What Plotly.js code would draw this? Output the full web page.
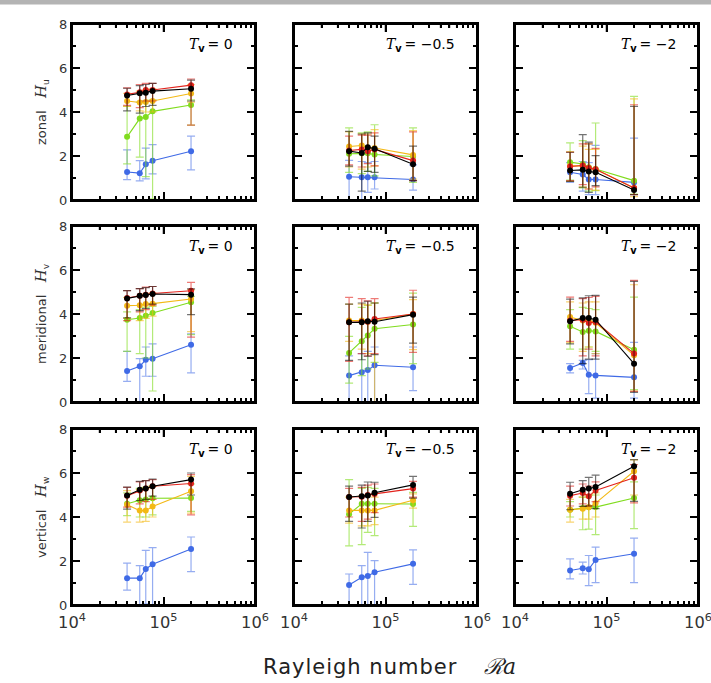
<!DOCTYPE html>
<html><head><meta charset="utf-8">
<script src="https://cdn.plot.ly/plotly-3.0.1.min.js"></script>
<style>html,body{margin:0;padding:0;background:#fff}</style>
</head><body><div id="chart" style="width:711px;height:683px"></div>
<script>
// ---------------- data ----------------
const Ra = [40000, 55000, 64000, 76000, 200000];
const seriesNames = ['blue', 'green', 'orange', 'red', 'black'];
const rowLabels = ['zonal', 'meridional', 'vertical'];
const rowSymbols = ['u', 'v', 'w'];
const tvLabels = ['0', '\u22120.5', '\u22122'];

// each array: [blue, green, orange, red, black]
const zonal_T0_val = [[1.27,1.22,1.62,1.78,2.22],[2.87,3.70,3.77,4.03,4.32],[4.50,4.43,4.45,4.50,4.84],[4.80,4.90,5.00,5.00,5.22],[4.75,4.85,4.88,4.95,5.06]];
const zonal_T0_hi  = [[2.28,1.79,2.36,2.52,2.90],[4.26,4.45,4.50,4.55,4.55],[4.85,4.95,5.00,5.05,5.25],[5.10,5.25,5.30,5.30,5.50],[5.08,5.20,5.25,5.30,5.45]];
const zonal_T0_lo  = [[0.93,0.87,0.96,1.19,1.37],[1.64,1.95,1.06,0.05,3.40],[4.25,4.05,4.00,4.00,4.45],[4.30,4.20,4.50,4.50,3.40],[4.05,3.95,4.25,4.30,4.50]];

const zonal_T05_val = [[1.06,1.03,1.03,1.03,0.93],[2.10,2.13,2.12,2.07,1.98],[2.43,2.48,2.38,2.36,2.05],[2.25,2.30,2.22,2.30,1.79],[2.22,2.14,2.40,2.33,1.63]];
const zonal_T05_hi  = [[1.80,1.75,1.70,1.75,1.60],[3.28,3.05,3.10,3.42,3.28],[3.10,3.00,3.00,3.20,3.15],[2.90,2.95,2.95,3.05,3.10],[3.12,3.00,3.05,2.90,2.45]];
const zonal_T05_lo  = [[0.00,0.00,0.35,0.50,0.45],[1.26,1.20,1.30,1.10,0.80],[1.50,1.40,1.50,1.55,0.95],[1.60,1.50,1.65,1.55,0.88],[1.54,0.40,1.30,1.26,0.88]];

const zonal_T2_val = [[1.26,1.16,0.93,0.93,0.80],[1.72,1.64,1.49,1.41,0.88],[1.55,1.55,1.45,1.40,0.55],[1.52,1.57,1.45,1.40,0.55],[1.34,1.37,1.29,1.26,0.45]];
const zonal_T2_hi  = [[1.70,1.75,1.70,2.48,2.81],[2.60,2.70,2.55,3.50,4.71],[2.20,2.45,2.30,2.30,4.60],[2.17,2.55,2.55,2.35,4.33],[2.17,2.97,2.63,2.02,4.26]];
const zonal_T2_lo  = [[0.80,0.40,0.24,0.24,0.00],[0.90,0.55,0.40,0.43,0.27],[0.85,0.60,0.50,0.45,0.15],[0.88,0.70,0.50,0.60,0.24],[0.85,0.58,0.35,0.65,0.24]];

const merid_T0_val = [[1.41,1.62,1.92,1.97,2.60],[3.74,3.82,3.92,4.05,4.53],[4.38,4.40,4.45,4.47,4.68],[4.73,4.83,4.88,4.93,5.06],[4.71,4.83,4.86,4.91,4.88]];
const merid_T0_hi  = [[2.30,1.97,2.50,2.64,3.10],[4.10,4.20,4.30,4.35,4.80],[4.75,4.80,4.90,4.95,5.10],[5.06,5.15,5.22,5.25,5.44],[5.06,5.15,5.20,5.25,5.14]];
const merid_T0_lo  = [[0.94,0.00,1.17,1.17,1.32],[2.30,2.20,2.00,0.50,3.06],[3.80,3.70,3.80,3.90,3.20],[3.70,4.10,4.20,4.40,2.95],[3.82,4.15,4.25,4.45,3.97]];

const merid_T05_val = [[1.20,1.35,1.45,1.67,1.58],[2.23,2.76,3.02,3.33,3.52],[3.70,3.70,3.65,3.70,4.00],[3.62,3.65,3.65,3.77,4.00],[3.62,3.62,3.67,3.65,3.97]];
const merid_T05_hi  = [[2.10,2.20,2.30,2.50,2.50],[2.98,4.30,4.40,4.50,4.95],[4.45,4.45,4.40,4.50,4.65],[4.76,4.70,4.60,4.70,5.08],[4.45,4.50,4.58,4.50,4.77]];
const merid_T05_lo  = [[0.00,0.00,0.00,0.00,0.52],[0.86,1.20,1.50,1.80,1.74],[2.76,2.40,2.20,0.00,2.38],[1.85,2.20,2.10,2.20,2.26],[1.89,1.92,2.08,2.15,2.68]];

const merid_T2_val = [[1.55,1.77,1.24,1.21,1.12],[3.44,3.18,3.24,3.21,2.38],[3.86,3.70,3.70,3.60,2.12],[3.71,3.74,3.59,3.64,2.20],[3.67,3.82,3.82,3.74,1.74]];
const merid_T2_hi  = [[1.74,1.89,1.92,2.20,2.71],[4.20,4.30,4.25,4.20,4.77],[4.55,4.50,4.55,4.55,5.33],[4.77,4.70,4.75,4.80,5.53],[4.68,4.73,4.83,4.85,5.48]];
const merid_T2_lo  = [[1.32,1.50,0.38,0.18,0.18],[2.40,2.40,2.50,2.30,0.56],[2.70,2.30,2.50,2.20,0.50],[2.76,2.10,2.40,2.10,0.48],[2.64,1.74,1.95,1.95,0.44]];

const vert_T0_val = [[1.22,1.22,1.64,1.85,2.55],[4.60,4.76,4.80,4.85,4.86],[4.56,4.29,4.29,4.48,5.17],[4.97,5.21,5.29,5.40,5.52],[4.98,5.24,5.29,5.40,5.70]];
const vert_T0_hi  = [[1.90,1.79,2.48,2.61,3.09],[5.10,5.30,5.35,5.40,5.50],[5.20,5.25,5.30,5.40,5.85],[5.35,5.60,5.65,5.70,5.93],[5.36,5.62,5.65,5.72,6.00]];
const vert_T0_lo  = [[0.68,0.00,0.05,0.00,1.52],[4.06,4.00,4.00,4.10,4.26],[3.77,3.77,3.80,4.00,4.18],[4.45,4.60,4.70,4.80,4.10],[4.36,4.75,4.80,4.95,5.00]];

const vert_T05_val = [[0.91,1.26,1.32,1.49,1.87],[4.13,4.60,4.60,4.60,4.59],[4.30,4.30,4.30,4.30,4.76],[4.91,4.92,5.00,5.05,5.29],[4.91,4.94,4.98,5.10,5.46]];
const vert_T05_hi  = [[1.41,1.79,2.39,2.02,2.51],[5.70,5.30,5.35,5.30,5.12],[4.90,4.95,5.00,4.90,5.05],[5.30,5.35,5.45,5.50,5.62],[5.40,5.45,5.59,5.58,5.85]];
const vert_T05_lo  = [[0.00,0.00,0.00,0.00,0.94],[2.69,2.74,3.30,3.15,3.57],[3.72,3.60,3.60,3.65,4.40],[4.00,3.80,3.90,4.20,4.90],[3.80,3.50,3.80,3.98,4.86]];

const vert_T2_val = [[1.57,1.67,1.63,2.05,2.33],[4.33,4.41,4.44,4.45,4.86],[4.33,4.38,4.44,4.63,6.08],[4.97,5.09,4.94,5.21,5.78],[5.06,5.24,5.29,5.36,6.31]];
const vert_T2_hi  = [[2.10,1.95,2.25,2.63,3.04],[4.70,4.90,5.00,5.00,5.60],[4.80,4.90,5.00,5.10,6.60],[5.40,5.50,5.40,5.60,6.38],[5.58,5.65,5.80,5.90,6.61]];
const vert_T2_lo  = [[1.19,1.41,0.88,1.02,1.02],[4.00,3.42,3.45,3.20,3.47],[3.77,3.90,3.90,4.00,5.00],[4.50,4.60,4.50,4.70,4.64],[4.33,4.48,4.50,4.38,4.71]];

// frame tick positions (axis values) used for the mirrored top/right ticks
const xMajorInner = [1e5];
const xMinorInner = [2e4,3e4,4e4,5e4,6e4,7e4,8e4,9e4,2e5,3e5,4e5,5e5,6e5,7e5,8e5,9e5];
const yMajorInner = [2, 4, 6];
const yMinorInner = [1, 3, 5, 7];

// ---------------- styling ----------------
const lineColors = ['#3f6ae6', '#80dc1e', '#f3b916', '#e3231c', '#000000'];
const errColors  = ['rgba(63,106,230,0.55)', 'rgba(128,220,30,0.6)', 'rgba(243,185,22,0.6)', 'rgba(227,35,28,0.6)', 'rgba(0,0,0,0.55)'];

const panelData = [
  [[zonal_T0_val, zonal_T0_hi, zonal_T0_lo], [zonal_T05_val, zonal_T05_hi, zonal_T05_lo], [zonal_T2_val, zonal_T2_hi, zonal_T2_lo]],
  [[merid_T0_val, merid_T0_hi, merid_T0_lo], [merid_T05_val, merid_T05_hi, merid_T05_lo], [merid_T2_val, merid_T2_hi, merid_T2_lo]],
  [[vert_T0_val, vert_T0_hi, vert_T0_lo], [vert_T05_val, vert_T05_hi, vert_T05_lo], [vert_T2_val, vert_T2_hi, vert_T2_lo]]
];

const W = 711, H = 683;
const colPx = [[72, 255], [294, 477], [515, 698]];
const rowPx = [[24, 200], [226, 402], [429, 605]];
const PW = 183, PH = 176;

const tickFont = {family: 'DejaVu Sans, sans-serif', size: 13, color: '#333'};
const traces = [];
const shapes = [{type: 'rect', xref: 'paper', yref: 'paper', x0: 0, x1: 1, y0: 1 - 4.5 / H, y1: 1, fillcolor: '#b4b4b4', line: {width: 0}, layer: 'above'}];
const layout = {
  width: W, height: H,
  margin: {l: 0, r: 0, t: 0, b: 0},
  paper_bgcolor: '#fff', plot_bgcolor: '#fff',
  showlegend: false,
  annotations: [],
  shapes: shapes
};

for (let r = 0; r < 3; r++) {
  for (let c = 0; c < 3; c++) {
    const idx = r * 3 + c + 1;
    const xa = idx === 1 ? 'x' : 'x' + idx;
    const ya = idx === 1 ? 'y' : 'y' + idx;
    const [vals, his, los] = panelData[r][c];
    for (let s = 0; s < 5; s++) {
      traces.push({
        type: 'scatter', mode: 'lines+markers',
        x: Ra, y: vals[s], xaxis: xa, yaxis: ya,
        name: seriesNames[s],
        line: {color: lineColors[s], width: 1.1},
        marker: {color: lineColors[s], size: 6},
        error_y: {
          type: 'data', symmetric: false,
          array: vals[s].map((v, i) => his[s][i] - v),
          arrayminus: vals[s].map((v, i) => v - los[s][i]),
          color: errColors[s], thickness: 1.2, width: 4
        }
      });
    }
    const xKey = idx === 1 ? 'xaxis' : 'xaxis' + idx;
    const yKey = idx === 1 ? 'yaxis' : 'yaxis' + idx;
    layout[xKey] = {
      domain: [colPx[c][0] / W, colPx[c][1] / W], anchor: ya,
      type: 'log', range: [4, 6], dtick: 1, exponentformat: 'power',
      showline: true, linecolor: '#000', linewidth: 2, mirror: 'ticks',
      ticks: 'inside', ticklen: 8, tickwidth: 1.5, tickcolor: '#000',
      minor: {ticks: 'inside', ticklen: 4, tickwidth: 1.5, tickcolor: '#000', dtick: 'D1'},
      showgrid: false, zeroline: false, tickfont: tickFont, ticklabeloverflow: 'allow',
      ticklabelstandoff: 2,
      showticklabels: r === 2
    };
    layout[yKey] = {
      domain: [1 - rowPx[r][1] / H, 1 - rowPx[r][0] / H], anchor: xa,
      range: [0, 8], dtick: 2,
      showline: true, linecolor: '#000', linewidth: 2, mirror: 'ticks',
      ticks: 'inside', ticklen: 8, tickwidth: 1.5, tickcolor: '#000',
      minor: {ticks: 'inside', ticklen: 4, tickwidth: 1.5, tickcolor: '#000', dtick: 1},
      showgrid: false, zeroline: false, tickfont: tickFont,
      showticklabels: c === 0
    };

    // panel frame (top and right edges) with mirrored inside ticks
    const xd = xa + ' domain', yd = ya + ' domain';
    shapes.push({type: 'rect', xref: xd, yref: yd, x0: 0, x1: 1, y0: 0, y1: 1, line: {color: '#000', width: 2}, layer: 'above'});
    xMajorInner.concat(xMinorInner).forEach((v, k) => {
      const len = (k < xMajorInner.length ? 8 : 4) / PH;
      shapes.push({type: 'line', xref: xa, yref: yd, x0: v, x1: v, y0: 1, y1: 1 - len, line: {color: '#000', width: 1.5}, layer: 'above'});
    });
    yMajorInner.concat(yMinorInner).forEach((v, k) => {
      const len = (k < yMajorInner.length ? 8 : 4) / PW;
      shapes.push({type: 'line', xref: xd, yref: ya, x0: 1, x1: 1 - len, y0: v, y1: v, line: {color: '#000', width: 1.5}, layer: 'above'});
    });

    layout.annotations.push({
      xref: 'paper', yref: 'paper',
      x: (colPx[c][1] - 20) / W, y: 1 - (rowPx[r][0] + 21) / H,
      xanchor: 'right', yanchor: 'middle',
      showarrow: false,
      text: '<span style="font-family:DejaVu Serif"><i>T</i></span><sub><b>v</b></sub>\u2009= ' + tvLabels[c],
      font: {family: 'DejaVu Sans, sans-serif', size: 14, color: '#000'}
    });
  }
  layout.annotations.push({
    xref: 'paper', yref: 'paper',
    x: 41 / W, y: 1 - ((rowPx[r][0] + rowPx[r][1]) / 2) / H,
    xanchor: 'center', yanchor: 'middle', textangle: -90, showarrow: false,
    text: rowLabels[r] + '\u00a0\u00a0\u00a0<span style="font-family:DejaVu Serif;font-size:15px"><i>H</i></span><sub>' + rowSymbols[r] + '</sub>',
    font: {family: 'DejaVu Sans, sans-serif', size: 13, color: '#333'}
  });
}

layout.annotations.push({
  xref: 'paper', yref: 'paper', x: 389 / W, y: 1 - 666 / H,
  xanchor: 'center', yanchor: 'middle', showarrow: false,
  text: '<span style="letter-spacing:1px">Rayleigh number</span>\u00a0\u00a0\u00a0\u00a0<span style="font-family:DejaVu Serif;font-size:22px"><i>\u211Ba</i></span>',
  font: {family: 'DejaVu Sans, sans-serif', size: 21, color: '#222'}
});

Plotly.newPlot('chart', traces, layout, {displayModeBar: false});
</script>
</body></html>
